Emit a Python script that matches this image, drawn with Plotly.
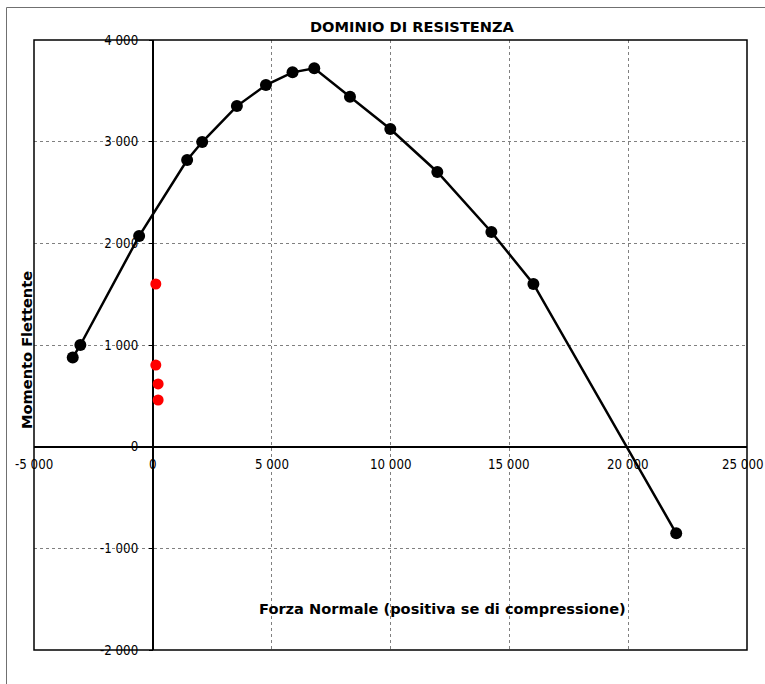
import plotly.graph_objects as go

# Resistance domain (black curve)
dom_N = [-3370, -3050, -577, 1444, 2076, 3537, 4758, 5878, 6792, 8295, 9992, 11971, 14244, 16013, 22021]
dom_M = [876, 1000, 2072, 2820, 2996, 3350, 3557, 3682, 3722, 3442, 3125, 2702, 2112, 1600, -852]

# Load points (red)
load_N = [126, 126, 223, 223]
load_M = [1600, 803, 617, 459]

x_ticks = [-5000, 0, 5000, 10000, 15000, 20000, 25000]
x_labels = ["-5 000", "0", "5 000", "10 000", "15 000", "20 000", "25 000"]
y_ticks = [-2000, -1000, 0, 1000, 2000, 3000, 4000]
y_labels = ["-2 000", "-1 000", "0", "1 000", "2 000", "3 000", "4 000"]

TICK_FONT = "DejaVu Sans Condensed, Liberation Sans"
BOLD_FONT = "DejaVu Sans"
TICK_SIZE = 13.2

fig = go.Figure()
fig.add_trace(go.Scatter(x=dom_N, y=dom_M, mode="lines+markers",
                         line=dict(color="black", width=2.5),
                         marker=dict(color="black", size=12), showlegend=False))
fig.add_trace(go.Scatter(x=load_N, y=load_M, mode="markers",
                         marker=dict(color="#ff0000", size=11), showlegend=False))

W, H = 765, 684
# plot area in screen px: x 34..747, y 40..650
L, R, T, B = 34, W - 747, 40, H - 650
pw, ph = W - L - R, H - T - B

def px2paper_x(px):
    return (px - L) / pw

def px2paper_y(py):
    return (H - B - py) / ph

x_axis_pos = 2000 / 6000   # y = 0 in paper coords

# x tick labels drawn as annotations so the edge label is kept (last one nudged to fit)
x_tick_annotations = [
    dict(text=lab, x=v, xref="x", y=x_axis_pos, yref="paper", yshift=-(465 - 446.7),
         xshift=(-4 if i == len(x_ticks) - 1 else 0),
         showarrow=False, xanchor="center", yanchor="middle",
         font=dict(family=TICK_FONT, size=TICK_SIZE, color="black"))
    for i, (v, lab) in enumerate(zip(x_ticks, x_labels))
]

fig.update_layout(
    width=W, height=H,
    margin=dict(l=L, r=R, t=T, b=B, pad=0, autoexpand=False),
    paper_bgcolor="white", plot_bgcolor="white",
    font=dict(family=TICK_FONT, size=TICK_SIZE, color="black"),
    xaxis=dict(range=[-5000, 25000], tickvals=x_ticks, showticklabels=False,
               anchor="free", position=x_axis_pos, showline=False, automargin=False,
               showgrid=True, gridcolor="#808080", griddash="dot", gridwidth=1,
               zeroline=True, zerolinecolor="black", zerolinewidth=1.5,
               ticks="", fixedrange=True),
    yaxis=dict(range=[-2000, 4000], tickvals=y_ticks, ticktext=y_labels,
               anchor="free", position=5000 / 30000, showline=False, automargin=False,
               showgrid=True, gridcolor="#808080", griddash="dot", gridwidth=1,
               zeroline=True, zerolinecolor="black", zerolinewidth=1.5,
               ticks="outside", ticklen=4, tickcolor="black",
               ticklabelstandoff=8,
               tickfont=dict(family=TICK_FONT, size=TICK_SIZE), fixedrange=True),
    shapes=[
        dict(type="rect", xref="paper", yref="paper", x0=0, x1=1, y0=0, y1=1,
             line=dict(color="black", width=1.5), layer="above"),
        dict(type="rect", xref="paper", yref="paper",
             x0=px2paper_x(6.5), x1=px2paper_x(800), y0=px2paper_y(720), y1=px2paper_y(7.5),
             line=dict(color="#707070", width=1), layer="below"),
    ],
    annotations=x_tick_annotations + [
        dict(text="<b>DOMINIO DI RESISTENZA</b>", xref="paper", yref="paper",
             x=px2paper_x(413), y=px2paper_y(26), showarrow=False,
             font=dict(family=BOLD_FONT, size=14.6), xanchor="center", yanchor="middle"),
        dict(text="<b>Forza Normale (positiva se di compressione)</b>", xref="paper", yref="paper",
             x=px2paper_x(442), y=px2paper_y(608), showarrow=False,
             font=dict(family=BOLD_FONT, size=14.6), xanchor="center", yanchor="middle"),
        dict(text="<b>Momento Flettente</b>", xref="paper", yref="paper",
             x=px2paper_x(26), y=px2paper_y(350), showarrow=False, textangle=-90,
             font=dict(family=BOLD_FONT, size=14.6), xanchor="center", yanchor="middle"),
    ],
)

fig.write_html("out.html", config={"displayModeBar": False},
               post_script="document.body.style.margin='0';document.body.style.overflow='hidden';")
